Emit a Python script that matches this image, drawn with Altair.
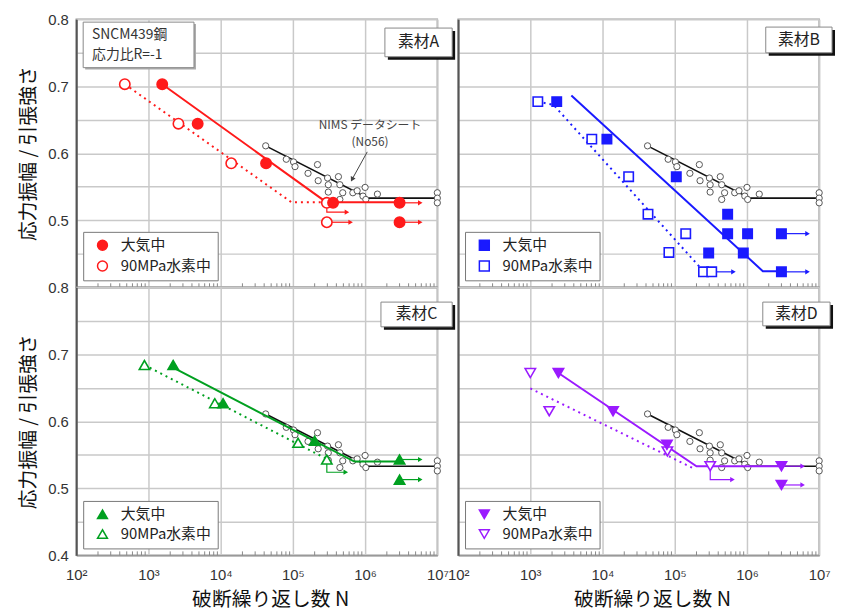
import altair as alt
import pandas as pd

JP = "Noto Sans CJK JP"
LAT = "Liberation Sans"
AIR = "大気中"
H2 = "90MPa水素中"

# ---- common NIMS reference data (same in every panel) ----
nims_N = [42000, 81000, 102000, 107000, 162000, 219000, 224000, 302000, 309000, 309000,
          427000, 447000, 447000, 490000, 676000, 776000, 1000000, 933000, 1023000, 1480000,
          10000000, 10000000, 10000000]
nims_v = [0.611, 0.591, 0.587, 0.580, 0.570, 0.583, 0.559, 0.563, 0.553, 0.542,
          0.565, 0.553, 0.531, 0.541, 0.541, 0.544, 0.549, 0.536, 0.531, 0.539,
          0.541, 0.533, 0.526]
nims_line_N = [42000, 1100000, 10000000]
nims_line_v = [0.611, 0.533, 0.533]

# ---- 素材A ----
a_air_N = [1550, 4800, 42500, 360000, 3000000, 3000000]
a_air_v = [0.703, 0.644, 0.585, 0.526, 0.526, 0.497]
a_h2_N = [470, 2600, 14000, 295000, 295000]
a_h2_v = [0.703, 0.644, 0.585, 0.526, 0.497]
a_fit_air_N = [1550, 290000, 3000000]
a_fit_air_v = [0.703, 0.527, 0.527]
a_fit_h2_N = [470, 95000, 290000]
a_fit_h2_v = [0.703, 0.527, 0.527]
a_run_N = [3000000, 3000000, 295000, 295000]
a_run_v = [0.526, 0.497, 0.497, 0.526]
a_run_end_N = [5800000, 5800000, 630000, 560000]
a_run_line_v = [0.526, 0.497, 0.497, 0.512]

# ---- 素材B ----
b_air_N = [2320, 11500, 105000, 540000, 540000, 1020000, 3000000, 295000, 890000, 3000000]
b_air_v = [0.677, 0.621, 0.565, 0.509, 0.480, 0.480, 0.480, 0.451, 0.451, 0.423]
b_h2_N = [1270, 7100, 23000, 42600, 83000, 142000, 250000, 325000]
b_h2_v = [0.677, 0.621, 0.565, 0.509, 0.452, 0.480, 0.423, 0.423]
b_fit_air_N = [3700, 1660000, 3000000]
b_fit_air_v = [0.686, 0.424, 0.424]
b_fit_h2_N = [1270, 2100, 250000]
b_fit_h2_v = [0.677, 0.672, 0.424]
b_run_N = [3000000, 3000000, 325000]
b_run_v = [0.480, 0.423, 0.423]
b_run_end_N = [6900000, 6900000, 650000]
b_run_line_v = [0.480, 0.423, 0.423]

# ---- 素材C ----
c_air_N = [2200, 10800, 200000, 3000000, 3000000]
c_air_v = [0.684, 0.627, 0.571, 0.543, 0.513]
c_h2_N = [880, 8300, 118000, 295000]
c_h2_v = [0.684, 0.627, 0.568, 0.543]
c_fit_air_N = [2200, 710000, 3000000]
c_fit_air_v = [0.680, 0.540, 0.540]
c_fit_h2_N = [880, 280000]
c_fit_h2_v = [0.684, 0.545]
c_run_N = [295000, 3000000, 3000000]
c_run_v = [0.543, 0.543, 0.513]
c_run_end_N = [540000, 5800000, 5800000]
c_run_line_v = [0.524, 0.543, 0.513]

# ---- 素材D ----
d_air_N = [2450, 14000, 78000, 3000000, 3000000]
d_air_v = [0.672, 0.615, 0.565, 0.533, 0.505]
d_h2_N = [1000, 1830, 79000, 310000]
d_h2_v = [0.672, 0.615, 0.555, 0.533]
d_fit_air_N = [2450, 200000, 3000000]
d_fit_air_v = [0.672, 0.533, 0.533]
d_fit_h2_N = [1000, 180000]
d_fit_h2_v = [0.649, 0.530]
d_run_N = [310000, 3000000, 3000000]
d_run_v = [0.533, 0.533, 0.505]
d_run_end_N = [630000, 5900000, 5900000]
d_run_line_v = [0.513, 0.533, 0.505]

# NIMS annotation arrow (panel A)
nims_arrow_N = [1070000, 660000]
nims_arrow_v = [0.602, 0.561]

decades = [100, 1000, 10000, 100000, 1000000, 10000000]
minor_ticks = [m * d for d in [100, 1000, 10000, 100000, 1000000] for m in range(2, 10)]
y_ticks = [0.4, 0.45, 0.5, 0.55, 0.6, 0.65, 0.7, 0.75, 0.8]

W, H = 365, 271
GRID = "#c9c9c9"
one = pd.DataFrame({"a": [0]})

X_LABEL_EXPR = ("'10' + substring('⁰¹²³⁴⁵⁶⁷', round(log(datum.value)/LN10), "
                "round(log(datum.value)/LN10)+1)")
Y_LABEL_BOTTOM = "round(datum.value*100) % 10 == 0 ? format(datum.value, '.1f') : ''"
Y_LABEL_TOP = "datum.value > 0.45 && round(datum.value*100) % 10 == 0 ? format(datum.value, '.1f') : ''"


def panel(name, color, shape, size, air_N, air_v, h2_N, h2_v, fa_N, fa_v, fh_N, fh_v,
          run_N, run_v, run_end, run_line_v, box, row, col):
    xs = alt.Scale(type="log", domain=[100, 10000000], nice=False)
    ys = alt.Scale(domain=[0.4, 0.8], nice=False, zero=False)
    xa = dict(values=decades, grid=True, gridColor=GRID, gridWidth=1.5, ticks=False,
              domainColor="#999", domainWidth=1.5)
    if row == 1:
        xa.update(labelExpr=X_LABEL_EXPR,
                  labelFont=LAT, labelFontSize=15, labelColor="#333", labelPadding=12,
                  labelFlush=False, labelOverlap=False,
                  title="破断繰り返し数 N", titleFont=JP, titleFontSize=20,
                  titleFontWeight="normal", titleColor="#111", titlePadding=8, titleX=196)
    else:
        xa.update(labels=False, title=None)
    ya = dict(values=y_ticks, grid=True, gridColor=GRID, gridWidth=1.5, ticks=False,
              domainColor="#555", domainWidth=2)
    if col == 0:
        ya.update(labelExpr=Y_LABEL_TOP if row == 0 else Y_LABEL_BOTTOM,
                  labelFont=LAT, labelFontSize=15, labelColor="#333", labelPadding=8,
                  title="応力振幅 / 引張強さ", titleFont=JP, titleFontSize=20,
                  titleFontWeight="normal", titleColor="#111", titlePadding=9)
    else:
        ya.update(labels=False, title=None)
    X = lambda f: alt.X(f, type="quantitative", scale=xs, axis=alt.Axis(**xa))
    Y = lambda f: alt.Y(f, type="quantitative", scale=ys, axis=alt.Axis(**ya))

    minor = alt.Chart(pd.DataFrame({"N": minor_ticks})).mark_rule(color="#888", strokeWidth=1).encode(
        x=X("N"), y=alt.value(H - 4), y2=alt.value(H))

    nims_line = alt.Chart(pd.DataFrame({"N": nims_line_N, "v": nims_line_v})).mark_line(
        color="#111", strokeWidth=1.6).encode(x=X("N"), y=Y("v"))
    nims_pts = alt.Chart(pd.DataFrame({"N": nims_N, "v": nims_v})).mark_point(
        shape="circle", size=40, fill="white", stroke="#555", strokeWidth=1, opacity=1, filled=False).encode(
        x=X("N"), y=Y("v"))

    fit_air = alt.Chart(pd.DataFrame({"N": fa_N, "v": fa_v})).mark_line(
        color=color, strokeWidth=2).encode(x=X("N"), y=Y("v"))
    fit_h2 = alt.Chart(pd.DataFrame({"N": fh_N, "v": fh_v})).mark_line(
        color=color, strokeWidth=2, strokeDash=[2, 4]).encode(x=X("N"), y=Y("v"))

    arows = []
    for i in range(len(run_N)):
        arows.append({"id": i, "k": 0, "N": run_N[i], "v": run_v[i]})
        arows.append({"id": i, "k": 1, "N": run_N[i], "v": run_line_v[i]})
        arows.append({"id": i, "k": 2, "N": run_end[i], "v": run_line_v[i]})
    arrows = alt.Chart(pd.DataFrame(arows)).mark_line(color=color, strokeWidth=1.2).encode(
        x=X("N"), y=Y("v"), detail="id:N", order="k:Q")
    heads = alt.Chart(pd.DataFrame({"N": run_end, "v": run_line_v})).mark_point(
        shape="triangle-right", size=28, filled=True, color=color, opacity=1).encode(x=X("N"), y=Y("v"))

    pts = pd.DataFrame({"N": h2_N + air_N, "v": h2_v + air_v,
                        "cond": [H2] * len(h2_N) + [AIR] * len(air_N)})
    leg = alt.Legend(orient="bottom-left", title=None, offset=7, padding=6, fillColor="white",
                     strokeColor="#777", labelFont=JP, labelFontSize=15, labelColor="#222",
                     symbolSize=100, symbolStrokeWidth=1.5, rowPadding=4, labelOffset=11,
                     symbolOffset=6, cornerRadius=0)
    dom = [AIR, H2]
    points = alt.Chart(pts).mark_point(filled=True, opacity=1, strokeWidth=1.6, size=size).encode(
        x=X("N"), y=Y("v"),
        fill=alt.Fill("cond:N", scale=alt.Scale(domain=dom, range=[color, "white"]), legend=leg),
        stroke=alt.Stroke("cond:N", scale=alt.Scale(domain=dom, range=[color, color]), legend=leg),
        shape=alt.Shape("cond:N", scale=alt.Scale(domain=dom, range=[shape, shape]), legend=leg),
    )

    x1, x2, y1, y2 = box
    shadow = alt.Chart(one).mark_rect(color="#111").encode(
        x=alt.value(x1 + 3), x2=alt.value(x2 + 3), y=alt.value(y1 + 3), y2=alt.value(y2 + 3))
    rect = alt.Chart(one).mark_rect(fill="white", stroke="#888", strokeWidth=1).encode(
        x=alt.value(x1), x2=alt.value(x2), y=alt.value(y1), y2=alt.value(y2))
    label = alt.Chart(one).mark_text(font=JP, fontSize=16, color="#222").encode(
        x=alt.value((x1 + x2) / 2), y=alt.value((y1 + y2) / 2), text=alt.value(name))

    layers = [minor, nims_line, nims_pts, fit_h2, fit_air, arrows, heads, points, shadow, rect, label]

    if name == "素材A":
        s_shadow = alt.Chart(one).mark_rect(color="#aaa").encode(
            x=alt.value(9), x2=alt.value(121), y=alt.value(5), y2=alt.value(51))
        s_rect = alt.Chart(one).mark_rect(fill="white", stroke="#888", strokeWidth=1).encode(
            x=alt.value(7), x2=alt.value(119), y=alt.value(3), y2=alt.value(49))
        s_t1 = alt.Chart(one).mark_text(font=JP, fontSize=14, color="#333", align="left").encode(
            x=alt.value(16), y=alt.value(16), text=alt.value("SNCM439鋼"))
        s_t2 = alt.Chart(one).mark_text(font=JP, fontSize=14, color="#333", align="left").encode(
            x=alt.value(16), y=alt.value(36), text=alt.value("応力比R=-1"))
        n_t1 = alt.Chart(one).mark_text(font=JP, fontSize=12, color="#444").encode(
            x=alt.value(297), y=alt.value(107), text=alt.value("NIMS データシート"))
        n_t2 = alt.Chart(one).mark_text(font=JP, fontSize=12, color="#444").encode(
            x=alt.value(297), y=alt.value(124), text=alt.value("(No56)"))
        n_arrow = alt.Chart(pd.DataFrame({"N": nims_arrow_N, "v": nims_arrow_v})).mark_line(
            color="#444", strokeWidth=1).encode(x=X("N"), y=Y("v"))
        n_head = alt.Chart(pd.DataFrame({"N": nims_arrow_N[1:], "v": nims_arrow_v[1:]})).mark_point(
            shape="triangle-up", angle=208, size=30, filled=True, color="#444", opacity=1).encode(
            x=X("N"), y=Y("v"))
        layers += [s_shadow, s_rect, s_t1, s_t2, n_t1, n_t2, n_arrow, n_head]

    return alt.layer(*layers).properties(width=W, height=H)


A = panel("素材A", "#ff1a1a", "circle", 110, a_air_N, a_air_v, a_h2_N, a_h2_v,
          a_fit_air_N, a_fit_air_v, a_fit_h2_N, a_fit_h2_v,
          a_run_N, a_run_v, a_run_end_N, a_run_line_v, (312, 380, 9, 38), 0, 0)
B = panel("素材B", "#1a1aff", "square", 90, b_air_N, b_air_v, b_h2_N, b_h2_v,
          b_fit_air_N, b_fit_air_v, b_fit_h2_N, b_fit_h2_v,
          b_run_N, b_run_v, b_run_end_N, b_run_line_v, (311, 378, 8, 34), 0, 1)
C = panel("素材C", "#00a020", "triangle-up", 110, c_air_N, c_air_v, c_h2_N, c_h2_v,
          c_fit_air_N, c_fit_air_v, c_fit_h2_N, c_fit_h2_v,
          c_run_N, c_run_v, c_run_end_N, c_run_line_v, (308, 380, 15, 40), 1, 0)
D = panel("素材D", "#9a1aff", "triangle-down", 110, d_air_N, d_air_v, d_h2_N, d_h2_v,
          d_fit_air_N, d_fit_air_v, d_fit_h2_N, d_fit_h2_v,
          d_run_N, d_run_v, d_run_end_N, d_run_line_v, (308, 376, 15, 39), 1, 1)

chart = alt.concat(A, B, C, D, columns=2, spacing={"row": 0, "column": 21}, bounds="flush").resolve_scale(
    fill="independent", stroke="independent", shape="independent"
).resolve_legend(
    fill="independent", stroke="independent", shape="independent"
).configure_view(stroke="#999", strokeWidth=1.5).properties(
    padding={"left": 10, "top": 0, "right": 0, "bottom": 0}, background="white"
)

chart.save("out.html", embed_options={"renderer": "svg", "actions": False})
